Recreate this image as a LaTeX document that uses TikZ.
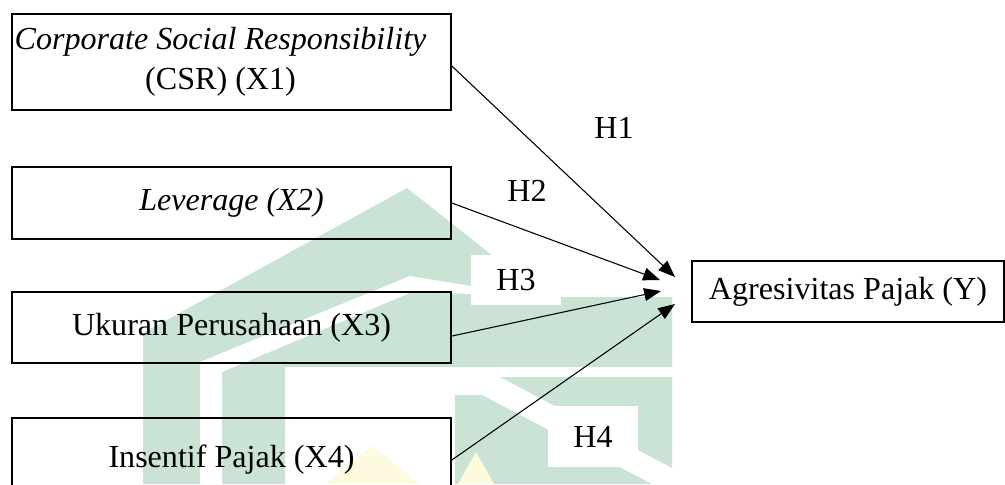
\documentclass[tikz,border=0pt]{standalone}
\usepackage{fontspec}
\setmainfont{Liberation Serif}
\usepackage{tikz}
\usetikzlibrary{arrows.meta}
\definecolor{wmgreen}{RGB}{202,227,213}
\definecolor{wmyellow}{RGB}{253,250,222}

\begin{document}
\begin{tikzpicture}[
    x=0.374pt, y=-0.374pt,
    varbox/.style={rectangle, draw=black, line width=0.6pt, minimum width=164.2pt, inner sep=0pt, align=center, font=\fontsize{12}{15}\selectfont},
    hyp/.style={rectangle, fill=white, minimum width=33.7pt, inner sep=0pt, font=\fontsize{12}{15}\selectfont},
    arrow/.style={-{Triangle[length=6.3pt,width=4.8pt]}, line width=0.4pt},
    watermark/.style={fill=wmgreen, draw=none}
]
\useasboundingbox (0,0) rectangle (1005,484);
\clip (0,0) rectangle (1005,484);

% Watermark in the background
\fill[watermark] (143,484) -- (143,333) -- (407,188) -- (545,297) -- (672,297) -- (672,367) -- (285,367) -- (285,484) -- cycle;
\fill[white] (200,484) -- (200,362) -- (410,276) -- (471,286) -- (471,294) -- (412,292) -- (222,372) -- (222,484) -- cycle;
\fill[watermark] (500,377) -- (672,377) -- (672,468) -- cycle;
\fill[watermark] (455,395) -- (482,395) -- (652,484) -- (455,484) -- cycle;
\fill[wmyellow] (325,484) -- (372,446) -- (420,484) -- cycle;
\fill[wmyellow] (458,484) -- (476,452) -- (494,484) -- cycle;

% Variables
\node[varbox, minimum height=35.9pt] (csr) at (231.5,62) {\hspace*{-8.2pt}\textit{Corporate Social Responsibility}\\\hspace*{-8.2pt}(CSR) (X1)};
\node[varbox, minimum height=26.9pt] (lev) at (231.5,203) {\textit{Leverage (X2)}};
\node[varbox, minimum height=26.6pt] (size) at (231.5,327.5) {Ukuran Perusahaan (X3)};
\node[varbox, minimum height=31.4pt] (insentif) at (231.5,460) {\raisebox{2.6pt}{Insentif Pajak (X4)}};
\node[varbox, minimum width=116.7pt, minimum height=22.8pt] (agresi) at (848,291.5) {Agresivitas Pajak (Y)};

% Arrow ends in front of Y
\coordinate (t1) at (675,277);
\coordinate (t2) at (660,280);
\coordinate (t3) at (661,291);
\coordinate (t4) at (675,304);

% Hypotheses
\draw[arrow] ([yshift=-1.5pt]csr.east) -- (t1);
\draw[arrow] (lev.east) -- (t2);
\draw[arrow] ([yshift=-3.2pt]size.east) -- (t3);
\draw[arrow] (insentif.east) -- (t4);

% Labels
\node[hyp] (h1) at (614,128) {H1};
\node[hyp] (h2) at (527,191) {H2};
\node[hyp, minimum height=18.7pt] (h3) at (516,280) {H3};
\node[hyp, minimum height=22.8pt] (h4) at (593,436.5) {H4};

\end{tikzpicture}
\end{document}
